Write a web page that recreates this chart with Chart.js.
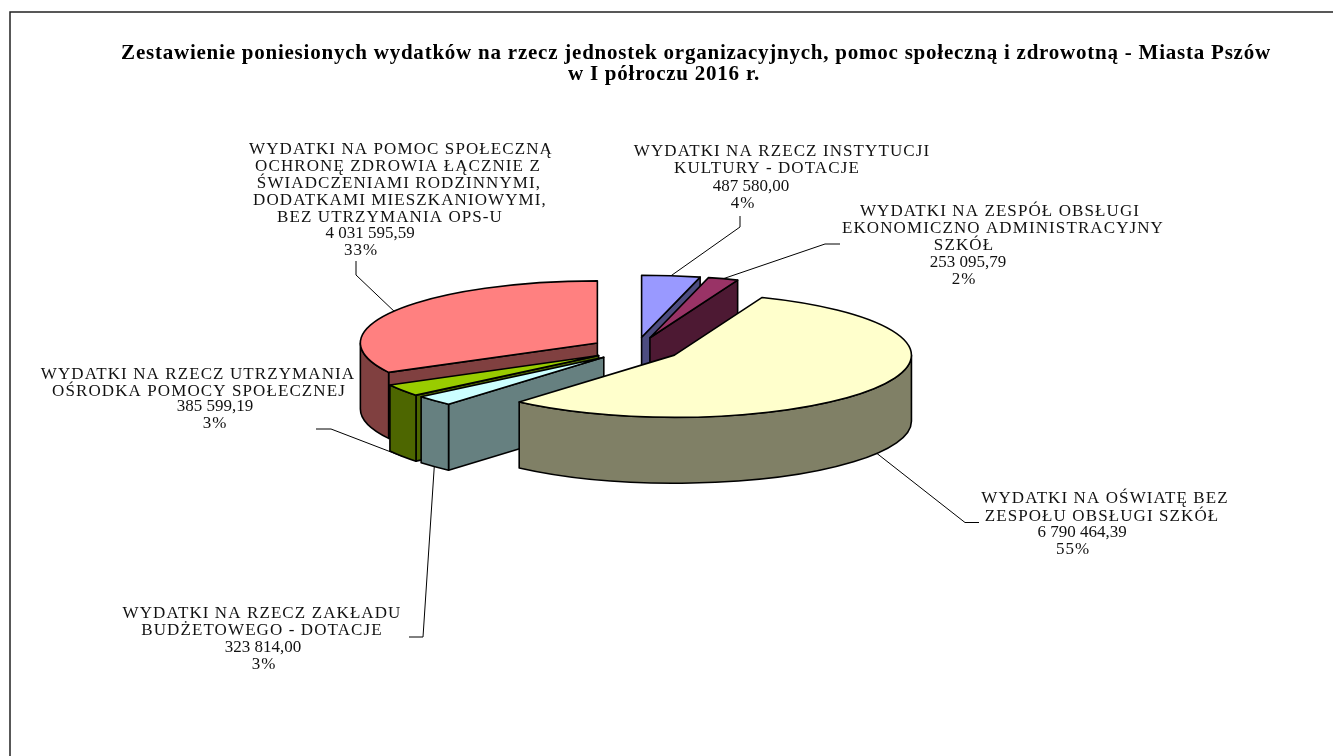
<!DOCTYPE html>
<html>
<head>
<meta charset="utf-8">
<title>Wydatki Miasta Pszów</title>
<script src="https://cdn.jsdelivr.net/npm/chart.js@4"></script>
<style>
    html, body { margin: 0; padding: 0; background: #fff; overflow: hidden; }
    canvas { display: block; }
</style>
</head>
<body>
<canvas id="myChart" width="1333" height="756"></canvas>
<script>
// Chart data, clockwise from the top of the pie
const categories = [
    ["WYDATKI NA RZECZ INSTYTUCJI", "KULTURY - DOTACJE"],
    ["WYDATKI NA ZESPÓŁ OBSŁUGI", "EKONOMICZNO ADMINISTRACYJNY", "SZKÓŁ"],
    ["WYDATKI NA OŚWIATĘ BEZ", "ZESPOŁU OBSŁUGI SZKÓŁ"],
    ["WYDATKI NA RZECZ ZAKŁADU", "BUDŻETOWEGO - DOTACJE"],
    ["WYDATKI NA RZECZ UTRZYMANIA", "OŚRODKA POMOCY SPOŁECZNEJ"],
    ["WYDATKI NA POMOC SPOŁECZNĄ", "OCHRONĘ ZDROWIA ŁĄCZNIE Z", "ŚWIADCZENIAMI RODZINNYMI,", "DODATKAMI MIESZKANIOWYMI,", "BEZ UTRZYMANIA OPS-U"]
];
const values = [487580.00, 253095.79, 6790464.39, 323814.00, 385599.19, 4031595.59];
const titleLines = [
    "Zestawienie poniesionych wydatków na rzecz jednostek organizacyjnych, pomoc społeczną i zdrowotną - Miasta Pszów",
    "w I półroczu 2016 r."
];

const topColors = ["#9999FF", "#993366", "#FFFFCC", "#CCFFFF", "#99CC00", "#FF8080"];
const sideColors = ["#4D4D80", "#4D1933", "#808066", "#668080", "#4D6600", "#804040"];

// Pie geometry
const pieX = 636, pieY = 349, radius = 237, squash = 0.262, depth = 66, explode = 45;
// back to front
const drawOrder = [0, 1, 5, 4, 3, 2];

// Where the label lines sit: [centre x, middle y] for each line, last two are value and percent
const labelPos = [
    [[782, 152], [767, 169], [751, 187], [743, 204]],
    [[1000, 212], [1003, 229], [964, 246], [968, 263], [964, 280]],
    [[1105, 499], [1102, 517], [1082, 533], [1073, 550]],
    [[262, 614], [262, 631], [263, 648], [264, 665]],
    [[198, 375], [199, 392], [215, 407], [215, 424]],
    [[401, 150], [398, 167], [399, 184], [400, 201], [390, 218], [370, 234], [361, 251]]
];
// Leader lines start on the slice, then follow these points
const leaderPos = [
    [[740, 227], [740, 216]],
    [[825, 244], [840, 244]],
    [[965, 522.5], [979, 522.5]],
    [[423, 637], [409, 637]],
    [[331, 429], [316, 429]],
    [[356, 275], [356, 261]]
];

const labelFont = "17px 'Liberation Serif'";
const titleFont = "bold 21px 'Liberation Serif'";
const titlePos = [[696, 54], [664, 75]];

function formatValue(v) {
    const parts = v.toFixed(2).split(".");
    return parts[0].replace(/\B(?=(\d{3})+$)/g, " ") + "," + parts[1];
}

function sliceCentre(arc) {
    const mid = (arc.startAngle + arc.endAngle) / 2;
    return { x: pieX + Math.cos(mid) * explode, y: pieY + Math.sin(mid) * explode * squash, mid: mid };
}

// Draws the chart's arc element through the pie's flattening transform
function drawTop(ctx, arc) {
    const mid = (arc.startAngle + arc.endAngle) / 2;
    ctx.save();
    ctx.translate(pieX, pieY);
    ctx.scale(1, squash);
    ctx.translate(Math.cos(mid) * explode, Math.sin(mid) * explode);
    ctx.translate(-arc.x, -arc.y);
    arc.draw(ctx);
    ctx.restore();
}

function paintPath(ctx, color) {
    ctx.closePath();
    ctx.fillStyle = color;
    ctx.fill();
    ctx.stroke();
}

function drawSlice(ctx, arc, i) {
    const c = sliceCentre(arc);
    const r = arc.outerRadius, ry = r * squash;
    const px = a => c.x + Math.cos(a) * r;
    const py = a => c.y + Math.sin(a) * ry;
    ctx.strokeStyle = "#000";
    ctx.lineWidth = 1.6;
    ctx.lineJoin = "round";

    // flat cut faces that look towards the viewer
    [arc.startAngle, arc.endAngle].forEach((a, n) => {
        const normalY = n === 0 ? -Math.cos(a) : Math.cos(a);
        if (normalY <= 1e-6) return;
        ctx.beginPath();
        ctx.moveTo(c.x, c.y);
        ctx.lineTo(px(a), py(a));
        ctx.lineTo(px(a), py(a) + depth);
        ctx.lineTo(c.x, c.y + depth);
        paintPath(ctx, sideColors[i]);
    });

    // curved wall, only the front half of the pie shows
    const lo = Math.max(arc.startAngle, 0), hi = Math.min(arc.endAngle, Math.PI);
    if (hi > lo) {
        ctx.beginPath();
        ctx.ellipse(c.x, c.y, r, ry, 0, lo, hi);
        ctx.ellipse(c.x, c.y + depth, r, ry, 0, hi, lo, true);
        paintPath(ctx, sideColors[i]);
    }

    // top face
    drawTop(ctx, arc);
    ctx.beginPath();
    ctx.moveTo(c.x, c.y);
    ctx.ellipse(c.x, c.y, r, ry, 0, arc.startAngle, arc.endAngle);
    ctx.closePath();
    ctx.stroke();
}

function drawLeader(ctx, arc, i) {
    const c = sliceCentre(arc);
    let y = c.y + Math.sin(c.mid) * arc.outerRadius * squash;
    if (Math.sin(c.mid) > 0) y += depth;
    ctx.beginPath();
    ctx.moveTo(c.x + Math.cos(c.mid) * arc.outerRadius, y);
    leaderPos[i].forEach(p => ctx.lineTo(p[0], p[1]));
    ctx.strokeStyle = "#000";
    ctx.lineWidth = 1;
    ctx.stroke();
}

function drawLabel(ctx, i, total) {
    const names = categories[i];
    const lines = names.concat([formatValue(values[i]), Math.round(values[i] / total * 100) + "%"]);
    ctx.font = labelFont;
    ctx.fillStyle = "#111";
    ctx.textAlign = "center";
    ctx.textBaseline = "middle";
    lines.forEach((t, n) => {
        // the caps of the original face run wider than Liberation Serif
        ctx.letterSpacing = n < names.length ? "1.1px" : (n === lines.length - 1 ? "1px" : "0px");
        ctx.fillText(t, labelPos[i][n][0], labelPos[i][n][1]);
    });
    ctx.letterSpacing = "0px";
}

const pie3d = {
    id: "pie3d",
    beforeDraw(chart) {
        const ctx = chart.ctx;
        ctx.save();
        ctx.fillStyle = "#fff";
        ctx.fillRect(0, 0, chart.width, chart.height);
        // frame runs off the right and bottom of the page
        ctx.strokeStyle = "#222";
        ctx.lineWidth = 1.5;
        ctx.strokeRect(10, 12, chart.width + 20, chart.height + 20);
        ctx.font = titleFont;
        ctx.fillStyle = "#000";
        ctx.textAlign = "center";
        ctx.textBaseline = "middle";
        ctx.letterSpacing = "0.77px";
        titleLines.forEach((t, n) => ctx.fillText(t, titlePos[n][0], titlePos[n][1]));
        ctx.letterSpacing = "0px";
        ctx.restore();
    },
    beforeDatasetDraw(chart, args) {
        const ctx = chart.ctx;
        const arcs = args.meta.data;
        const total = values.reduce((a, b) => a + b, 0);
        ctx.save();
        arcs.forEach((arc, i) => drawLeader(ctx, arc, i));
        drawOrder.forEach(i => drawSlice(ctx, arcs[i], i));
        arcs.forEach((arc, i) => drawLabel(ctx, i, total));
        ctx.restore();
        return false;
    }
};

new Chart("myChart", {
    type: "pie",
    data: {
        labels: categories,
        datasets: [{
            data: values,
            backgroundColor: topColors,
            borderWidth: 0
        }]
    },
    options: {
        responsive: false,
        animation: false,
        radius: radius,
        plugins: {
            legend: { display: false },
            title: { display: false },
            tooltip: { enabled: false }
        }
    },
    plugins: [pie3d]
});
</script>
</body>
</html>
